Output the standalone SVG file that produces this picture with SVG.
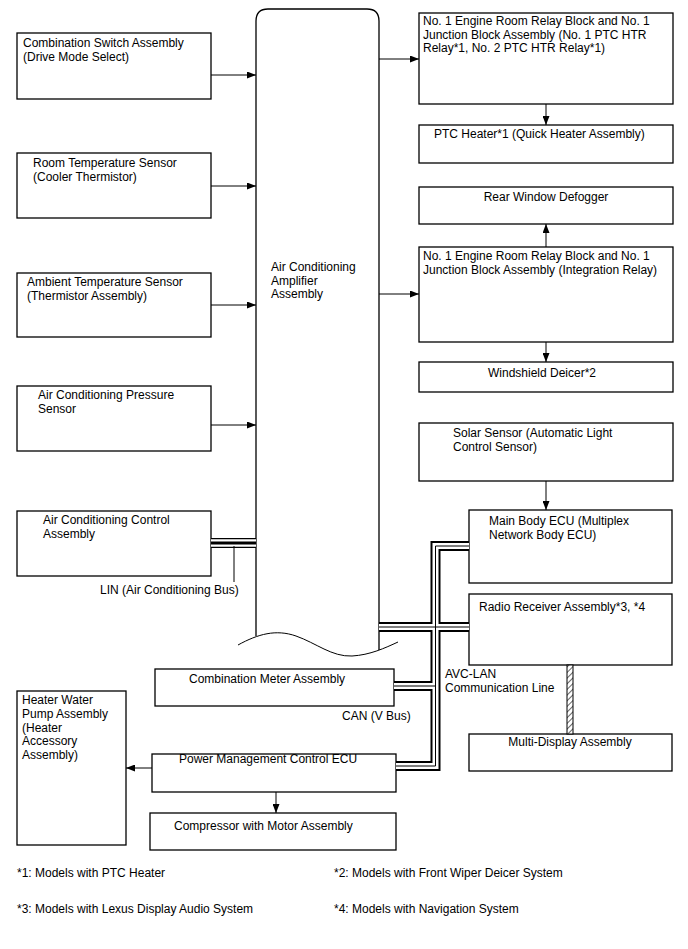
<svg xmlns="http://www.w3.org/2000/svg" width="688" height="949" viewBox="0 0 688 949">
<style>
.box{fill:#fff;stroke:#000;stroke-width:1.3}
.t{font-family:"Liberation Sans",Arial,sans-serif;font-size:12px;fill:#000}
.f{font-family:"Liberation Sans",Arial,sans-serif;font-size:12px;fill:#000}
.c{text-anchor:middle}
.ln{fill:none;stroke:#000;stroke-width:1}
.busA{fill:none;stroke:#000;stroke-width:10}
.busB{fill:none;stroke:#fff;stroke-width:6}
.busC{fill:none;stroke:#000;stroke-width:1}
.linA{fill:none;stroke:#000;stroke-width:10}
.linB{fill:none;stroke:#fff;stroke-width:7.5}
.linC{fill:none;stroke:#000;stroke-width:3}
</style>
<defs>
<marker id="ah" markerWidth="9" markerHeight="7" refX="9" refY="3.5" orient="auto" markerUnits="userSpaceOnUse">
<path d="M0,0 L9,3.5 L0,7 z" fill="#000"/>
</marker>
<pattern id="hatch" width="4" height="4" patternUnits="userSpaceOnUse" patternTransform="rotate(45)">
<rect width="4" height="4" fill="#fff"/>
<line x1="0" y1="0" x2="0" y2="4" stroke="#000" stroke-width="1.2"/>
</pattern>
</defs>
<rect width="688" height="949" fill="#fff"/>

<g id="amplifier">
<path d="M256,636 V21 Q256,9 268,9 H367 Q379,9 379,21 V650" fill="none" stroke="#000" stroke-width="1.3"/>
<path d="M238,645 C258,634 276,629 296,636 C316,643 332,657 352,656 C370,655 385,648 398,642" fill="none" stroke="#000" stroke-width="1"/>
<text class="t" x="271" y="271">Air Conditioning</text>
<text class="t" x="271" y="284.5">Amplifier</text>
<text class="t" x="271" y="298">Assembly</text>
</g>

<g id="combination-switch">
<rect class="box" x="17" y="33" width="194" height="66"/>
<text class="t" x="23" y="47">Combination Switch Assembly</text>
<text class="t" x="23" y="61">(Drive Mode Select)</text>
</g>
<g id="room-temp">
<rect class="box" x="17" y="153" width="194" height="65"/>
<text class="t" x="33" y="167">Room Temperature Sensor</text>
<text class="t" x="33" y="181">(Cooler Thermistor)</text>
</g>
<g id="ambient-temp">
<rect class="box" x="17" y="273" width="194" height="64"/>
<text class="t" x="27" y="286">Ambient Temperature Sensor</text>
<text class="t" x="27" y="300">(Thermistor Assembly)</text>
</g>
<g id="ac-pressure">
<rect class="box" x="17" y="386" width="194" height="65"/>
<text class="t" x="38" y="399">Air Conditioning Pressure</text>
<text class="t" x="38" y="413">Sensor</text>
</g>
<g id="ac-control">
<rect class="box" x="17" y="511" width="194" height="65"/>
<text class="t" x="43" y="524">Air Conditioning Control</text>
<text class="t" x="43" y="538">Assembly</text>
</g>

<g id="relay-ptc">
<rect class="box" x="419" y="13" width="254" height="91"/>
<text class="t" x="423" y="25">No. 1 Engine Room Relay Block and No. 1</text>
<text class="t" x="423" y="38.5">Junction Block Assembly (No. 1 PTC HTR</text>
<text class="t" x="423" y="52">Relay*1, No. 2 PTC HTR Relay*1)</text>
</g>
<g id="ptc-heater">
<rect class="box" x="419" y="125" width="254" height="38"/>
<text class="t" x="434" y="138">PTC Heater*1 (Quick Heater Assembly)</text>
</g>
<g id="rear-defogger">
<rect class="box" x="419" y="187" width="254" height="37"/>
<text class="t c" x="546" y="201">Rear Window Defogger</text>
</g>
<g id="relay-integration">
<rect class="box" x="419" y="247" width="254" height="95"/>
<text class="t" x="423" y="260">No. 1 Engine Room Relay Block and No. 1</text>
<text class="t" x="423" y="274">Junction Block Assembly (Integration Relay)</text>
</g>
<g id="windshield-deicer">
<rect class="box" x="419" y="362" width="254" height="30"/>
<text class="t c" x="542" y="377">Windshield Deicer*2</text>
</g>
<g id="solar-sensor">
<rect class="box" x="419" y="423" width="254" height="58"/>
<text class="t" x="453" y="437">Solar Sensor (Automatic Light</text>
<text class="t" x="453" y="451">Control Sensor)</text>
</g>
<g id="main-body-ecu">
<rect class="box" x="469" y="510" width="203" height="73"/>
<text class="t" x="489" y="525">Main Body ECU (Multiplex</text>
<text class="t" x="489" y="539">Network Body ECU)</text>
</g>
<g id="radio-receiver">
<rect class="box" x="469" y="594" width="203" height="71"/>
<text class="t" x="479" y="611">Radio Receiver Assembly*3, *4</text>
</g>
<g id="multi-display">
<rect class="box" x="469" y="734" width="203" height="37"/>
<text class="t c" x="570" y="746">Multi-Display Assembly</text>
</g>
<g id="combination-meter">
<rect class="box" x="155" y="669" width="239" height="37"/>
<text class="t" x="189" y="683">Combination Meter Assembly</text>
</g>
<g id="power-management">
<rect class="box" x="152" y="754" width="244" height="38"/>
<text class="t" x="179" y="763">Power Management Control ECU</text>
</g>
<g id="compressor">
<rect class="box" x="150" y="813" width="246" height="37"/>
<text class="t" x="174" y="830">Compressor with Motor Assembly</text>
</g>
<g id="heater-water-pump">
<rect class="box" x="17" y="691" width="109" height="154"/>
<text class="t" x="22" y="704">Heater Water</text>
<text class="t" x="22" y="718">Pump Assembly</text>
<text class="t" x="22" y="732">(Heater</text>
<text class="t" x="22" y="745">Accessory</text>
<text class="t" x="22" y="759">Assembly)</text>
</g>

<g id="connectors">
<line class="ln" x1="211" y1="75" x2="256" y2="75" marker-end="url(#ah)"/>
<line class="ln" x1="211" y1="186" x2="256" y2="186" marker-end="url(#ah)"/>
<line class="ln" x1="211" y1="305" x2="256" y2="305" marker-end="url(#ah)"/>
<line class="ln" x1="211" y1="425" x2="256" y2="425" marker-end="url(#ah)"/>
<line class="ln" x1="379" y1="59" x2="419" y2="59" marker-end="url(#ah)"/>
<line class="ln" x1="546" y1="104" x2="546" y2="125" marker-end="url(#ah)"/>
<line class="ln" x1="546" y1="247" x2="546" y2="224" marker-end="url(#ah)"/>
<line class="ln" x1="379" y1="294" x2="419" y2="294" marker-end="url(#ah)"/>
<line class="ln" x1="546" y1="342" x2="546" y2="362" marker-end="url(#ah)"/>
<line class="ln" x1="546" y1="481" x2="546" y2="510" marker-end="url(#ah)"/>
<line class="ln" x1="152" y1="768" x2="126" y2="768" marker-end="url(#ah)"/>
<line class="ln" x1="276" y1="792" x2="276" y2="813" marker-end="url(#ah)"/>

<g id="lin-bus">
<path class="linA" d="M211,543 H256"/>
<path class="linB" d="M211,543 H256"/>
<path class="linC" d="M211,543 H256"/>
<line class="ln" x1="234" y1="546" x2="234" y2="582"/>
</g>
<g id="can-bus">
<path class="busA" d="M469,546 H435.5 V766 H396 M379,627 H469 M394,686 H435.5"/>
<path class="busB" d="M469,546 H435.5 V766 H396 M379,627 H469 M394,686 H435.5"/>
<path class="busC" d="M469,546 H435.5 V766 H396 M379,627 H469 M394,686 H435.5"/>
</g>
<rect id="avc-lan" x="567" y="665" width="6" height="69" fill="url(#hatch)" stroke="#000" stroke-width="1"/>
</g>

<g id="labels">
<text class="t" x="100" y="594">LIN (Air Conditioning Bus)</text>
<text class="t" x="342" y="720">CAN (V Bus)</text>
<text class="t" x="445" y="678">AVC-LAN</text>
<text class="t" x="445" y="692">Communication Line</text>
<text class="f" x="17" y="877">*1: Models with PTC Heater</text>
<text class="f" x="334" y="877">*2: Models with Front Wiper Deicer System</text>
<text class="f" x="17" y="913">*3: Models with Lexus Display Audio System</text>
<text class="f" x="334" y="913">*4: Models with Navigation System</text>
</g>
</svg>
